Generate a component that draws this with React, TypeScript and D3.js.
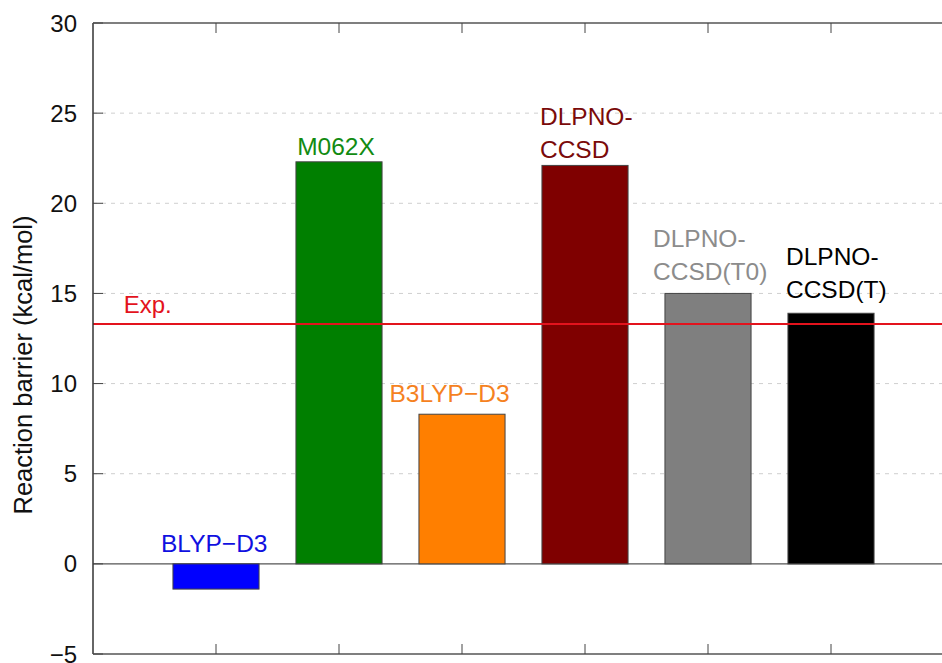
import React from "react";
import * as d3 from "d3";

const categories = ["BLYP-D3", "M062X", "B3LYP-D3", "DLPNO-CCSD", "DLPNO-CCSD(T0)", "DLPNO-CCSD(T)"];
const values = [-1.4, 22.3, 8.3, 22.1, 15.0, 13.9];
const labelLines = [["BLYP\u2212D3"], ["M062X"], ["B3LYP\u2212D3"], ["DLPNO-", "CCSD"], ["DLPNO-", "CCSD(T0)"], ["DLPNO-", "CCSD(T)"]];
const labelX = [0.553, 1.66, 2.41, 3.634, 4.553, 5.634];
const labelY = [0.65, 22.7, 9.0, 24.35, 17.6, 16.6];
const barColors = ["#0000ff", "#007f00", "#ff7f00", "#7f0000", "#7f7f7f", "#000000"];
const labelColors = ["#1010e0", "#128b12", "#f5821f", "#7a0a0a", "#8c8c8c", "#000000"];
const yTicks = [-5, 0, 5, 10, 15, 20, 25, 30];
const expValue = 13.3;
const expLabel = "Exp.";
const yTitle = "Reaction barrier (kcal/mol)";

const W = 942, H = 663;
const left = 93, top = 23, bottom = 654;
const font = "'Liberation Sans', Arial, Helvetica, sans-serif";

export default function App() {
  const x = d3.scaleLinear().domain([0, 7]).range([left, left + 7 * 123]);
  const y = d3.scaleLinear().domain([-5, 30]).range([bottom, top]);
  const bw = x(0.7) - x(0);
  const right = x(7);
  const fmt = (v: number) => (v < 0 ? "\u2212" + Math.abs(v) : String(v));
  return (
    <svg width={W} height={H} style={{ position: "absolute", left: 0, top: 0, background: "#fff" }} fontFamily={font}>
      {/* grid */}
      {yTicks.filter(t => t !== -5 && t !== 30 && t !== 0).map(t => (
        <line key={"g" + t} x1={left} x2={right} y1={y(t)} y2={y(t)} stroke="#cfcfcf" strokeWidth={1} strokeDasharray="4,5" />
      ))}
      {/* zero line */}
      <line x1={left} x2={right} y1={y(0)} y2={y(0)} stroke="#555" strokeWidth={1.2} />
      {/* bars */}
      {values.map((v, i) => (
        <rect key={"b" + i} x={x(i + 1) - bw / 2} y={y(Math.max(0, v))} width={bw} height={Math.abs(y(v) - y(0))}
          fill={barColors[i]} stroke="#444" strokeWidth={1} />
      ))}
      {/* exp line */}
      <line x1={left} x2={right} y1={y(expValue)} y2={y(expValue)} stroke="#e3131d" strokeWidth={2} />
      <text x={x(0.25)} y={y(13.9)} fontSize={24} fill="#e3131d">{expLabel}</text>
      {/* labels */}
      {labelLines.map((lines, i) => (
        <text key={"l" + i} x={x(labelX[i])} y={y(labelY[i])} fontSize={24.5} fill={labelColors[i]}>
          {lines.map((ln, j) => (
            <tspan key={j} x={x(labelX[i])} dy={j === 0 ? 0 : 33}>{ln}</tspan>
          ))}
        </text>
      ))}
      {/* axes frame */}
      <line x1={left} x2={left} y1={top} y2={bottom} stroke="#333" strokeWidth={1.5} />
      <line x1={left} x2={right} y1={top} y2={top} stroke="#555" strokeWidth={1.5} />
      <line x1={left} x2={right} y1={bottom} y2={bottom} stroke="#555" strokeWidth={1.5} />
      {/* y ticks */}
      {yTicks.map(t => (
        <g key={"t" + t}>
          <line x1={left} x2={left + 10} y1={y(t)} y2={y(t)} stroke="#444" strokeWidth={1} />
          <text x={left - 16} y={y(t)} dy="0.36em" textAnchor="end" fontSize={24} fill="#111">{fmt(t)}</text>
        </g>
      ))}
      {/* x ticks */}
      {categories.map((c, i) => (
        <g key={"x" + c}>
          <line x1={x(i + 1)} x2={x(i + 1)} y1={top} y2={top + 10} stroke="#444" strokeWidth={1} />
          <line x1={x(i + 1)} x2={x(i + 1)} y1={bottom} y2={bottom - 10} stroke="#444" strokeWidth={1} />
        </g>
      ))}
      <text transform="translate(32,365) rotate(-90)" textAnchor="middle" fontSize={25.5} fill="#111">{yTitle}</text>
    </svg>
  );
}
